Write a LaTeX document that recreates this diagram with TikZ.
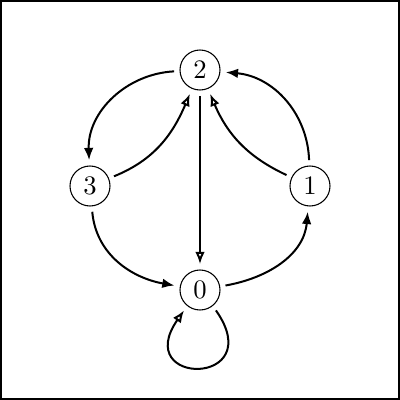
\documentclass[tikz,border=0pt]{standalone}
\usetikzlibrary{arrows.meta}
\begin{document}
\begin{tikzpicture}[x=0.375pt,y=-0.375pt,
  state/.style={circle,draw,line width=0.4pt,minimum size=15pt,inner sep=0pt,outer sep=2.2pt,font=\normalsize},
  edge/.style={line width=0.75pt},
  fill tip/.style={-{Latex[length=4.6pt,width=3.6pt]}},
  open tip/.style={-{Latex[open,length=4.6pt,width=3.6pt]}}]
\useasboundingbox (0,0) rectangle (400,400);
\draw[line width=0.75pt] (1,1) rectangle (399,399);
\node[state] (n2) at (200,70) {2};
\node[state] (n3) at (90,186) {3};
\node[state] (n1) at (310,186) {1};
\node[state] (n0) at (200,290) {0};
\draw[edge,fill tip] (n2) to[out=183,in=92] (n3);
\draw[edge,open tip] (n3) to[out=22,in=247] (n2);
\draw[edge,open tip] (n2) -- (n0);
\draw[edge,fill tip] (n1) to[out=92,in=-5] (n2);
\draw[edge,open tip] (n1) to[out=155,in=-67] (n2);
\draw[edge,fill tip] (n3) to[out=-85,in=170] (n0);
\draw[edge,fill tip] (n0) to[out=10,in=-95] (n1);
\draw[edge,open tip] (n0.-52) .. controls +(-55:35pt) and +(-125:35pt) .. (n0.-128);
\end{tikzpicture}
\end{document}
